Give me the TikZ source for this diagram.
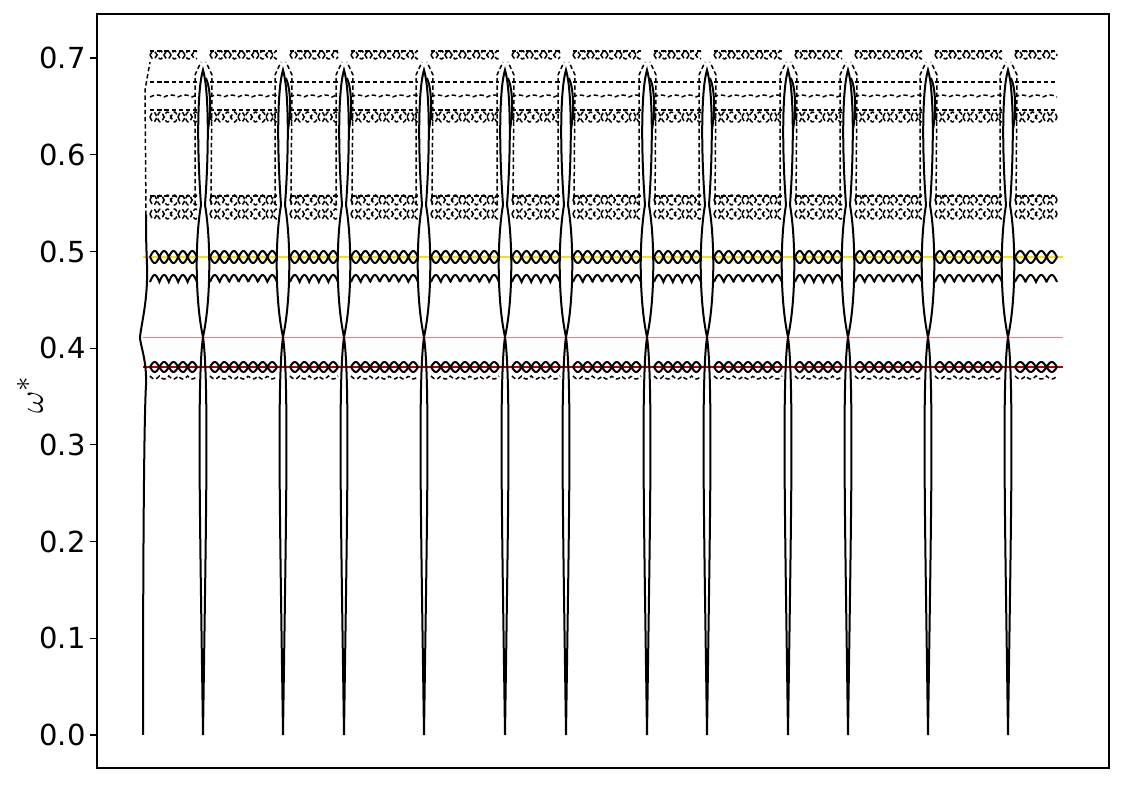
\documentclass[tikz,border=0pt]{standalone}
\usepackage{fontspec}
\setmainfont{DejaVu Sans}
\tikzset{
  band/.style={line width=1pt, black},
  dband/.style={line width=0.75pt, black, dash pattern=on 2.2pt off 1.4pt},
  spike/.style={line width=1pt, black},
  ticklab/.style={anchor=east, font=\fontsize{14.5}{16}\selectfont, inner sep=0pt},
}
\begin{document}
\begin{tikzpicture}[x=0.5pt, y=-0.5pt]
\useasboundingbox (0,0) rectangle (1125,785);

% frame and ticks
\draw[line width=0.6pt] (97,14) rectangle (1109,768);
\foreach \v [count=\i from 0] in {0.0,0.1,0.2,0.3,0.4,0.5,0.6,0.7} {
  \pgfmathsetmacro{\yy}{735-96.7*\i}
  \draw[line width=0.6pt] (90,\yy) -- (97,\yy);
  \node[ticklab] (t\i) at (86,\yy) {\v};
}
\node[rotate=90, font=\fontsize{19}{21}\selectfont, inner sep=1pt] (ylab) at (30,395) {$\omega^{*}$};

% reference lines
\draw[yellow!80!orange, line width=1.1pt] (143,257) -- (1063,257);
\draw[red!35!pink, line width=0.4pt] (143,337) -- (1063,337);
\draw[red!70!black, line width=0.7pt] (143,367) -- (1063,367);

% bands between the spikes
\foreach \a/\b in {143/203,203/283,283/344,344/424,424/505,505/566,566/647,647/707,707/788,788/848,848/928,928/1008,1008/1063} {
  \pgfmathsetmacro{\s}{\a+7}
  \pgfmathsetmacro{\e}{\b-6}
  \pgfmathsetmacro{\n}{max(1,round((\e-\s)/9.5))}
  \pgfmathsetmacro{\p}{(\e-\s)/\n}
  % circle chains
  \draw[band] plot[domain=\s:\e, samples=91] (\x, {257-6*abs(sin((\x-\s)*180/\p))});
  \draw[band] plot[domain=\s:\e, samples=91] (\x, {257+6*abs(sin((\x-\s)*180/\p))});
  \draw[band] plot[domain=\s:\e, samples=91] (\x, {367-5*abs(sin((\x-\s)*180/\p))});
  \draw[band] plot[domain=\s:\e, samples=91] (\x, {367+5*abs(sin((\x-\s)*180/\p))});
  % wavy line
  \draw[band] plot[domain=\s:\e, samples=91] (\x, {282-7*abs(sin((\x-\s)*180/\p))});
  \draw[dband] plot[domain=\s:\e, samples=61] (\x, {376+3*abs(sin((\x-\s)*180/\p))});
  % dashed bands
  \draw[dband] plot[domain=\s:\e, samples=61] (\x, {200+5*sin((\x-\s)*180/7)});
  \draw[dband] plot[domain=\s:\e, samples=61] (\x, {200-5*sin((\x-\s)*180/7)});
  \draw[dband] plot[domain=\s:\e, samples=61] (\x, {214+5*sin((\x-\s)*180/7)});
  \draw[dband] plot[domain=\s:\e, samples=61] (\x, {214-5*sin((\x-\s)*180/7)});
  \draw[dband] (\s,196) -- (\e,196);
  \draw[dband] plot[domain=\s:\e, samples=61] (\x, {117+5*sin((\x-\s)*180/7)});
  \draw[dband] plot[domain=\s:\e, samples=61] (\x, {117-5*sin((\x-\s)*180/7)});
  \draw[dband] (\s,110) -- (\e,110);
  \draw[dband] plot[domain=\s:\e, samples=41] (\x, {97-2*abs(sin((\x-\s)*180/14))});
  \draw[dband] (\s,82) -- (\e,82);
  \draw[dband] plot[domain=\s:\e, samples=61] (\x, {55+4*sin((\x-\s)*180/7)});
  \draw[dband] plot[domain=\s:\e, samples=61] (\x, {55-4*sin((\x-\s)*180/7)});
  \draw[dband] (\s,51) -- (\e,51);
}

% left edge
\draw[spike] (143,735) .. controls (143,560) and (144,420) .. (146,385)
  .. controls (147,360) and (140,345) .. (140,337)
  .. controls (142,320) and (148,300) .. (147,265)
  .. controls (146,240) and (146,230) .. (146,215);
\draw[dband] (146,215) -- (145,90) -- (150,62);

% spikes
\foreach \c in {203,283,344,424,505,566,647,707,788,848,928,1008} {
  \draw[spike] (\c,735) .. controls (\c-3,520) and (\c-6,380) .. (\c,337)
    .. controls (\c-8,300) and (\c-8,240) .. (\c-2,205);
  \draw[spike] (\c,735) .. controls (\c+3,520) and (\c+6,380) .. (\c,337)
    .. controls (\c+8,300) and (\c+8,240) .. (\c+2,205);
  \draw[spike] (\c-2,205) .. controls (\c-6,150) and (\c-6,90) .. (\c,70)
    .. controls (\c+6,90) and (\c+6,150) .. (\c+2,205);
  \draw[spike] (\c+3,78) .. controls (\c+8,90) and (\c+8,110) .. (\c+5,130);
  \draw[dband] (\c-8,205) -- (\c-8,75) -- (\c-2,62);
  \draw[dband] (\c+8,205) -- (\c+9,75) -- (\c+3,62);
}
\end{tikzpicture}
\end{document}
